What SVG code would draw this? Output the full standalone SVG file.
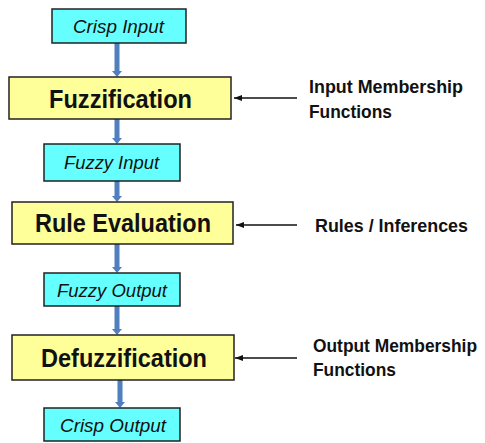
<svg xmlns="http://www.w3.org/2000/svg" width="485" height="443" viewBox="0 0 485 443">
<style>
.io{fill:#66FFFF;stroke:#222;stroke-width:1.5}
.st{fill:#FFFF99;stroke:#222;stroke-width:1.5}
.it{font-family:"Liberation Sans",Arial,sans-serif;font-style:italic;font-size:18px;fill:#111}
.big{font-family:"Liberation Sans",Arial,sans-serif;font-weight:bold;font-size:26px;fill:#111}
.side{font-family:"Liberation Sans",Arial,sans-serif;font-weight:bold;font-size:18px;fill:#111}
.flow{stroke:#4F7FBF;stroke-width:5;fill:none}
.head{fill:#4F7FBF}
.sl{stroke:#111;stroke-width:1.3;fill:none}
</style>
<defs>
<marker id="ah" markerWidth="8" markerHeight="6" refX="8" refY="3" orient="auto" markerUnits="userSpaceOnUse"><path d="M0,0 L8,3 L0,6 Z" fill="#111"/></marker>
</defs>
<g id="connectors">
<line class="flow" x1="117" y1="43" x2="117" y2="72"/><path class="head" d="M112,71 L122,71 L117,77 Z"/>
<line class="flow" x1="117" y1="119" x2="117" y2="139"/><path class="head" d="M112,138 L122,138 L117,144 Z"/>
<line class="flow" x1="117" y1="181" x2="117" y2="197"/><path class="head" d="M112,196 L122,196 L117,202 Z"/>
<line class="flow" x1="117" y1="244" x2="117" y2="268"/><path class="head" d="M112,267 L122,267 L117,273 Z"/>
<line class="flow" x1="117" y1="306" x2="117" y2="330"/><path class="head" d="M112,329 L122,329 L117,335 Z"/>
<line class="flow" x1="120" y1="380" x2="120" y2="403"/><path class="head" d="M115,402 L125,402 L120,408 Z"/>
<line class="sl" x1="297" y1="98" x2="234" y2="98" marker-end="url(#ah)"/>
<line class="sl" x1="297" y1="225" x2="236" y2="225" marker-end="url(#ah)"/>
<line class="sl" x1="297" y1="358" x2="235" y2="358" marker-end="url(#ah)"/>
</g>
<g id="crisp-input"><rect class="io" x="52" y="9" width="134" height="34"/><text class="it" x="73" y="33" textLength="91" lengthAdjust="spacingAndGlyphs">Crisp Input</text></g>
<g id="fuzzification"><rect class="st" x="9" y="77" width="222" height="42"/><text class="big" x="49" y="108" textLength="143" lengthAdjust="spacingAndGlyphs">Fuzzification</text></g>
<g id="fuzzy-input"><rect class="io" x="44" y="144" width="136" height="37"/><text class="it" x="64" y="169" textLength="95" lengthAdjust="spacingAndGlyphs">Fuzzy Input</text></g>
<g id="rule-evaluation"><rect class="st" x="12" y="202" width="221" height="42"/><text class="big" x="35" y="232" textLength="176" lengthAdjust="spacingAndGlyphs">Rule Evaluation</text></g>
<g id="fuzzy-output"><rect class="io" x="44" y="273" width="136" height="33"/><text class="it" x="57" y="297" textLength="110" lengthAdjust="spacingAndGlyphs">Fuzzy Output</text></g>
<g id="defuzzification"><rect class="st" x="12" y="335" width="222" height="45"/><text class="big" x="41" y="367" textLength="166" lengthAdjust="spacingAndGlyphs">Defuzzification</text></g>
<g id="crisp-output"><rect class="io" x="44" y="408" width="136" height="33"/><text class="it" x="60" y="432" textLength="106" lengthAdjust="spacingAndGlyphs">Crisp Output</text></g>
<g id="input-mf"><text class="side" x="309" y="93" textLength="154" lengthAdjust="spacingAndGlyphs">Input Membership</text><text class="side" x="309" y="118" textLength="83" lengthAdjust="spacingAndGlyphs">Functions</text></g>
<g id="rules"><text class="side" x="315" y="232" textLength="153" lengthAdjust="spacingAndGlyphs">Rules / Inferences</text></g>
<g id="output-mf"><text class="side" x="313" y="352" textLength="164" lengthAdjust="spacingAndGlyphs">Output Membership</text><text class="side" x="313" y="376" textLength="83" lengthAdjust="spacingAndGlyphs">Functions</text></g>
</svg>
